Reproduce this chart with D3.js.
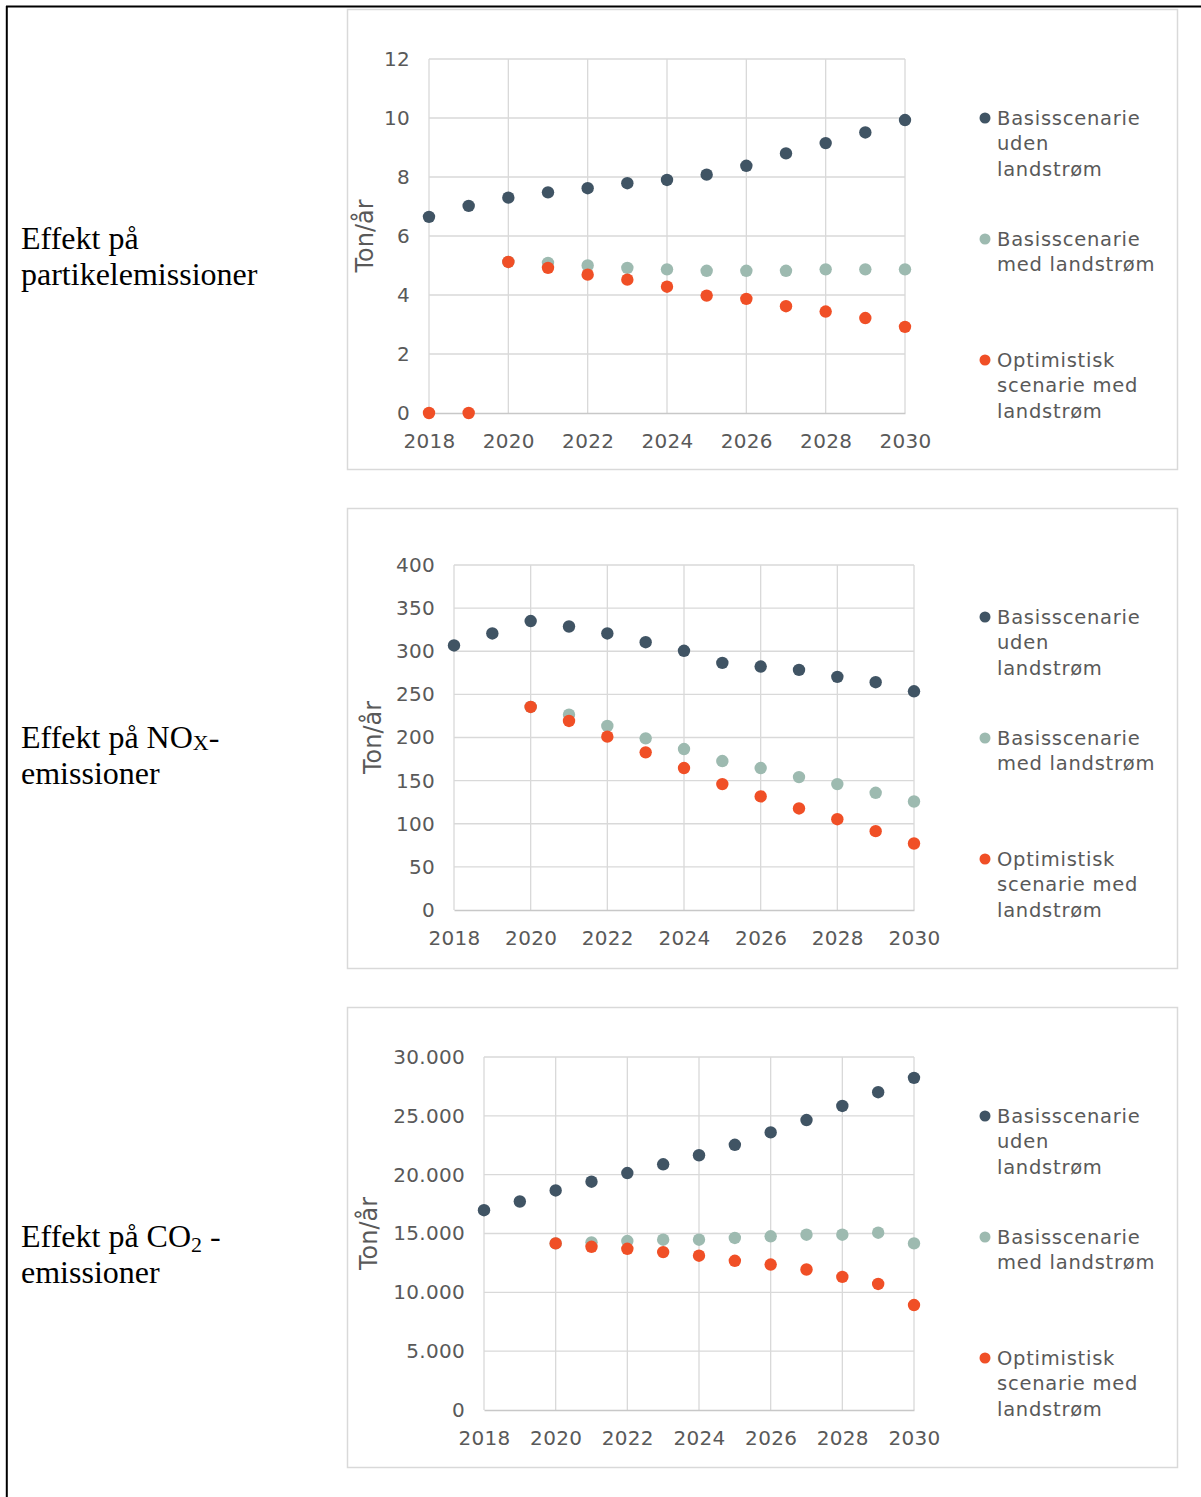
<!DOCTYPE html>
<html>
<head>
<meta charset="utf-8">
<script src="https://cdn.jsdelivr.net/npm/d3@7"></script>
<style>
  body { margin: 0; background: #ffffff; }
  svg { display: block; }
</style>
</head>
<body>
<svg id="drawing_region"></svg>
<script>
// data
const years = [2018, 2019, 2020, 2021, 2022, 2023, 2024, 2025, 2026, 2027, 2028, 2029, 2030];
const xTickYears = [2018, 2020, 2022, 2024, 2026, 2028, 2030];

const partUden = [6.65, 7.02, 7.30, 7.48, 7.62, 7.79, 7.90, 8.08, 8.38, 8.80, 9.15, 9.51, 9.93];
const partMed = [null, null, 5.12, 5.09, 5.00, 4.92, 4.87, 4.82, 4.82, 4.82, 4.87, 4.87, 4.87];
const partOpt = [0, 0, 5.12, 4.92, 4.69, 4.52, 4.28, 3.98, 3.87, 3.62, 3.44, 3.22, 2.92];
const partTicks = [0, 2, 4, 6, 8, 10, 12];

const noxUden = [306.7, 320.6, 335.0, 328.7, 320.6, 310.5, 300.5, 286.5, 282.3, 278.4, 270.3, 264.1, 253.6];
const noxMed = [null, null, 235.4, 226.5, 213.4, 199.0, 186.6, 172.7, 164.6, 154.1, 146.0, 135.9, 125.8];
const noxOpt = [null, null, 235.4, 219.2, 201.0, 182.8, 164.6, 146.0, 131.7, 117.7, 105.3, 91.4, 77.1];
const noxTicks = [0, 50, 100, 150, 200, 250, 300, 350, 400];

const co2Uden = [16980, 17720, 18660, 19400, 20140, 20880, 21650, 22540, 23590, 24640, 25840, 27010, 28230];
const co2Med = [null, null, 14160, 14250, 14360, 14470, 14470, 14620, 14760, 14900, 14900, 15070, 14160];
const co2Opt = [null, null, 14160, 13870, 13700, 13420, 13110, 12680, 12360, 11940, 11310, 10710, 8920];
const co2Ticks = [0, 5000, 10000, 15000, 20000, 25000, 30000];

const seriesColors = ['#405464', '#9dbab0', '#f04f26'];
const legendLines = [
    ['Basisscenarie', 'uden', 'landstrøm'],
    ['Basisscenarie', 'med landstrøm'],
    ['Optimistisk', 'scenarie med', 'landstrøm']
];

const daLocale = d3.formatLocale({ decimal: ',', thousands: '.', grouping: [3], currency: ['', ' kr'] });

class EmissionChart {

    constructor( config, data ) {
        this.config = {
            svg: config.svg,
            boxTop: config.boxTop,
            plot: config.plot,
            titleX: config.titleX,
            label: config.label,
            ticks: config.ticks,
            format: config.format || (d => d)
        };
        this.data = data;
        this.init();
    }

    init() {
        let self = this;
        self.chart = self.config.svg.append('g');

        self.chart.append('rect')
            .attr('x', 347.5)
            .attr('y', self.config.boxTop + 0.5)
            .attr('width', 830)
            .attr('height', 460)
            .attr('fill', '#ffffff')
            .attr('stroke', '#d9d9d9')
            .attr('stroke-width', 1.5);
    }

    update() {
        let self = this;
        const p = self.config.plot;
        const ticks = self.config.ticks;
        self.xscale = d3.scaleLinear()
            .domain([years[0], years[years.length - 1]])
            .range([p.left, p.right]);
        self.yscale = d3.scaleLinear()
            .domain([ticks[0], ticks[ticks.length - 1]])
            .range([p.bottom, p.top]);
        this.render();
    }

    render() {
        let self = this;
        const p = self.config.plot;
        const top = self.config.boxTop;

        // grid
        self.chart.append('g')
            .selectAll('line')
            .data(self.config.ticks.slice(1))
            .join('line')
            .attr('x1', p.left).attr('x2', p.right)
            .attr('y1', d => self.yscale(d)).attr('y2', d => self.yscale(d))
            .attr('stroke', '#d9d9d9').attr('stroke-width', 1.3);
        self.chart.append('g')
            .selectAll('line')
            .data(xTickYears)
            .join('line')
            .attr('x1', d => self.xscale(d)).attr('x2', d => self.xscale(d))
            .attr('y1', p.top).attr('y2', p.bottom)
            .attr('stroke', '#d9d9d9').attr('stroke-width', 1.3);

        // axes
        const xaxis = d3.axisBottom(self.xscale)
            .tickValues(xTickYears)
            .tickFormat(d3.format('d'))
            .tickSize(0)
            .tickPadding(21);
        const xg = self.chart.append('g')
            .attr('transform', `translate(0, ${p.bottom})`)
            .call(xaxis);
        xg.select('.domain').attr('stroke', '#c8c8c8').attr('stroke-width', 1.3);

        const yaxis = d3.axisLeft(self.yscale)
            .tickValues(self.config.ticks)
            .tickFormat(self.config.format)
            .tickSize(0)
            .tickPadding(19);
        const yg = self.chart.append('g')
            .attr('transform', `translate(${p.left}, 0)`)
            .call(yaxis);
        yg.select('.domain').remove();

        self.chart.selectAll('.tick text')
            .attr('fill', '#595959')
            .style('font-family', 'DejaVu Sans, Verdana, sans-serif')
            .style('font-size', '20px')
            .style('letter-spacing', '0.3px');

        self.chart.append('text')
            .attr('transform', `translate(${self.config.titleX}, ${(p.top + p.bottom) / 2}) rotate(-90)`)
            .attr('text-anchor', 'middle')
            .attr('dy', '0.35em')
            .attr('fill', '#595959')
            .style('font-family', 'DejaVu Sans, Verdana, sans-serif')
            .style('font-size', '24px')
            .text('Ton/år');

        // points
        self.data.forEach( (values, i) => {
            self.chart.append('g')
                .selectAll('circle')
                .data(values.map((v, j) => ({ year: years[j], value: v })).filter(d => d.value !== null))
                .join('circle')
                .attr('cx', d => self.xscale(d.year))
                .attr('cy', d => self.yscale(d.value))
                .attr('r', 6.2)
                .attr('fill', seriesColors[i]);
        });

        // legend
        const legendOffsets = [109, 230, 351];
        legendLines.forEach( (lines, i) => {
            const ly = top + legendOffsets[i];
            self.chart.append('circle')
                .attr('cx', 985).attr('cy', ly)
                .attr('r', 5.5)
                .attr('fill', seriesColors[i]);
            self.chart.append('g')
                .selectAll('text')
                .data(lines)
                .join('text')
                .attr('x', 997)
                .attr('y', (d, k) => ly + k * 25.5)
                .attr('dy', '0.35em')
                .attr('fill', '#595959')
                .style('font-family', 'DejaVu Sans, Verdana, sans-serif')
                .style('font-size', '19.5px')
                .style('letter-spacing', '0.75px')
                .text(d => d);
        });

        // row label on the left
        const lab = self.chart.append('g')
            .style('font-family', 'Liberation Serif, Times New Roman, serif')
            .style('font-size', '32px')
            .attr('fill', '#000000');
        self.config.label.forEach( (parts, k) => {
            const t = lab.append('text')
                .attr('x', 21)
                .attr('y', top + 240 + k * 36);
            parts.forEach( part => {
                const s = t.append('tspan').text(part.text);
                if (part.sub) {
                    s.style('font-size', '22px').attr('dy', part.sub);
                }
                if (part.back) {
                    s.attr('dy', part.back);
                }
            });
        });
    }
}

const svg = d3.select('#drawing_region')
    .attr('width', 1201)
    .attr('height', 1497);

// table frame
svg.append('line')
    .attr('x1', 6).attr('x2', 1201).attr('y1', 6.5).attr('y2', 6.5)
    .attr('stroke', '#000000').attr('stroke-width', 2);
svg.append('line')
    .attr('x1', 6.8).attr('x2', 6.8).attr('y1', 6).attr('y2', 1497)
    .attr('stroke', '#000000').attr('stroke-width', 2);

const chartPart = new EmissionChart({
    svg: svg,
    boxTop: 9,
    plot: { left: 429, right: 905, top: 59, bottom: 413 },
    titleX: 365,
    ticks: partTicks,
    label: [
        [{ text: 'Effekt på' }],
        [{ text: 'partikelemissioner' }]
    ]
}, [partUden, partMed, partOpt]);
chartPart.update();

const chartNox = new EmissionChart({
    svg: svg,
    boxTop: 508,
    plot: { left: 454, right: 914, top: 565, bottom: 910 },
    titleX: 373,
    ticks: noxTicks,
    label: [
        [{ text: 'Effekt på NO' }, { text: 'X', sub: 2 }, { text: '-', back: -2 }],
        [{ text: 'emissioner' }]
    ]
}, [noxUden, noxMed, noxOpt]);
chartNox.update();

const chartCo2 = new EmissionChart({
    svg: svg,
    boxTop: 1007,
    plot: { left: 484, right: 914, top: 1057, bottom: 1410 },
    titleX: 369,
    ticks: co2Ticks,
    format: daLocale.format(','),
    label: [
        [{ text: 'Effekt på CO' }, { text: '2', sub: 5 }, { text: '  -', back: -5 }],
        [{ text: 'emissioner' }]
    ]
}, [co2Uden, co2Med, co2Opt]);
chartCo2.update();
</script>
</body>
</html>
